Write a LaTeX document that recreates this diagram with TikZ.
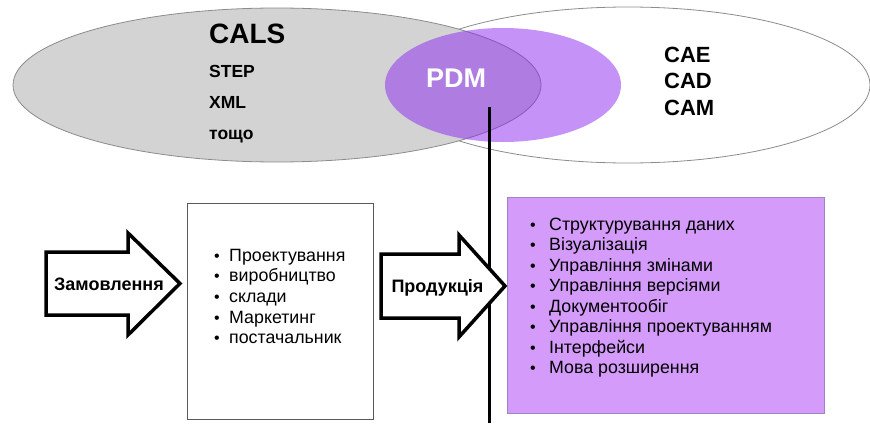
\documentclass[tikz,border=0pt]{standalone}
\usepackage{fontspec}
\setmainfont{Liberation Sans}
\usetikzlibrary{shapes.geometric}
\definecolor{greyfill}{RGB}{211,211,211}
\definecolor{greyline}{RGB}{140,140,140}
\definecolor{pdmcol}{RGB}{140,40,240}
\definecolor{boxpurple}{RGB}{212,155,250}
\definecolor{boxpurpleline}{RGB}{160,130,200}
\tikzset{
  venn/.style={ellipse, inner sep=0pt, line width=0.8pt},
  head/.style={font=\bfseries\fontsize{#1}{#1}\selectfont, inner sep=0pt, anchor=base west},
  lbl/.style={font=\bfseries\fontsize{18}{18}\selectfont, inner sep=0pt, anchor=base},
  item/.style={font=\fontsize{17.8}{17.8}\selectfont, inner sep=0pt, anchor=base west},
  bul/.style={font=\fontsize{16}{16}\selectfont, inner sep=0pt, anchor=base},
  bigarrow/.style={draw=black, line width=3.5pt, fill=white, line join=miter},
}
\begin{document}
\begin{tikzpicture}[x=1pt,y=-1pt]
\useasboundingbox (0,0) rectangle (870,423);
% Venn ellipses
\node[venn, draw=greyline, fill=white, minimum width=484pt, minimum height=156pt] (cax) at (628,85) {};
\node[venn, draw=greyline, fill=greyfill, minimum width=528pt, minimum height=154pt] (cals) at (277,85) {};
\node[venn, fill=pdmcol, fill opacity=0.5, minimum width=236pt, minimum height=114pt] (pdm) at (503,85) {};
% Texts in ellipses
\node[head=28] (tcals) at (209,43) {CALS};
\node[head=17.5] (tstep) at (209,77) {STEP};
\node[head=17.5] (txml) at (209,108) {XML};
\node[head=17.5] (ttoshcho) at (209,139) {тощо};
\node[font=\bfseries\fontsize{27}{27}\selectfont, text=white, inner sep=0pt, anchor=base] (tpdm) at (456,87) {PDM};
\node[head=22] (tcae) at (664,62) {CAE};
\node[head=22] (tcad) at (664,88) {CAD};
\node[head=22] (tcam) at (664,115) {CAM};
% vertical line
\coordinate (ltop) at (489,107);
\coordinate (lbot) at (489,423);
\draw[line width=3pt] (ltop) -- (lbot);
% boxes
\node[draw=black!65, line width=0.8pt, fill=white, minimum width=186pt, minimum height=216pt, inner sep=0pt] (work) at (280,311) {};
\node[draw=boxpurpleline, line width=0.8pt, fill=boxpurple, minimum width=317pt, minimum height=216pt, inner sep=0pt] (funcs) at (665.5,305) {};
% arrows
\draw[bigarrow] (46,252) -- (128,252) -- (128,233) -- (180,283.5) -- (128,335) -- (128,315) -- (46,315) -- cycle;
\node[lbl] (tzam) at (109,290) {Замовлення};
\draw[bigarrow] (381,254) -- (459,254) -- (459,235) -- (505,286) -- (459,337) -- (459,318) -- (381,318) -- cycle;
\node[lbl] (tprod) at (437.5,292) {Продукція};
% left list
\foreach \t [count=\i] in {Проектування, виробництво, склади, Маркетинг, постачальник} {
  \node[bul] (lb\i) at (217,{261+20.7*(\i-1)}) {•};
  \node[item] (li\i) at (229,{261+20.7*(\i-1)}) {\t};
}
% right list
\foreach \t [count=\i] in {Структурування даних, Візуалізація, Управління змінами, Управління версіями, Документообіг, Управління проектуванням, Інтерфейси, Мова розширення} {
  \node[bul] (rb\i) at (533,{230+20.5*(\i-1)}) {•};
  \node[item] (ri\i) at (549,{230+20.5*(\i-1)}) {\t};
}
\end{tikzpicture}
\end{document}
